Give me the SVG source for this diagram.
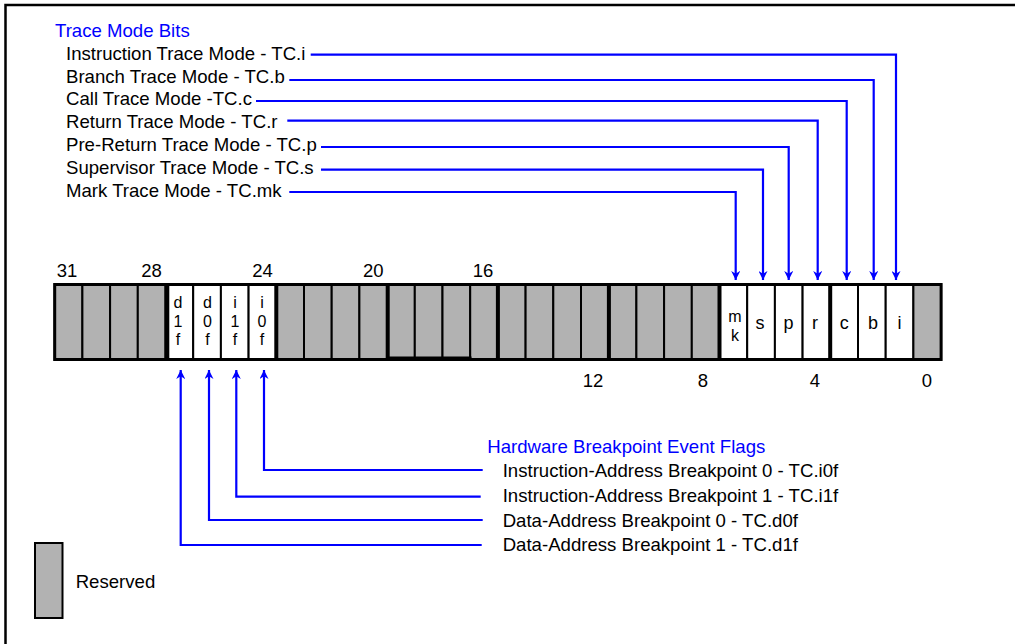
<svg xmlns="http://www.w3.org/2000/svg" width="1015" height="644" viewBox="0 0 1015 644">
<style>
  text { font-family: "Liberation Sans", Arial, sans-serif; font-size: 18.6px; fill: #000; }
  .blue { fill: #0000ff; }
  .num { text-anchor: middle; font-size: 18.5px; }
  .bit { text-anchor: middle; font-size: 18px; }
  .stk { text-anchor: middle; font-size: 16px; }
  .res { fill: #b2b2b2; stroke: #000; stroke-width: 2; }
  .fld { fill: #fff; stroke: #000; stroke-width: 2; }
  .thick { stroke: #000; stroke-width: 4; fill: none; }
  .conn { fill: none; stroke: #0000ff; stroke-width: 2.2; }
</style>
<defs>
  <marker id="arr" viewBox="0 0 10 10" refX="10" refY="5" markerWidth="11" markerHeight="9" markerUnits="userSpaceOnUse" orient="auto">
    <path d="M0,0 L10,5 L0,10 L3,5 z" fill="#0000ff"/>
  </marker>
</defs>
<rect width="1015" height="644" fill="#fff"/>
<path d="M5.5,644 V5 H1015" fill="none" stroke="#000" stroke-width="2.5"/>

<g id="title-trace">
  <text class="blue" x="55" y="37">Trace Mode Bits</text>
</g>
<g id="trace-labels">
  <text x="66" y="60">Instruction Trace Mode - TC.i</text>
  <text x="66" y="83">Branch Trace Mode - TC.b</text>
  <text x="66" y="105">Call Trace Mode -TC.c</text>
  <text x="66" y="128">Return Trace Mode - TC.r</text>
  <text x="66" y="151">Pre-Return Trace Mode - TC.p</text>
  <text x="66" y="174">Supervisor Trace Mode - TC.s</text>
  <text x="66" y="197">Mark Trace Mode - TC.mk</text>
</g>

<g id="bit-numbers">
  <text class="num" x="67" y="277">31</text>
  <text class="num" x="151.5" y="277">28</text>
  <text class="num" x="262.5" y="277">24</text>
  <text class="num" x="373.3" y="277">20</text>
  <text class="num" x="483" y="277">16</text>
  <text class="num" x="593" y="387">12</text>
  <text class="num" x="703" y="387">8</text>
  <text class="num" x="815" y="387">4</text>
  <text class="num" x="927" y="387">0</text>
</g>

<g id="register">
  <rect class="res" x="54.7" y="284.5" width="27.7" height="75"/>
  <rect class="res" x="82.4" y="284.5" width="27.7" height="75"/>
  <rect class="res" x="110.1" y="284.5" width="27.7" height="75"/>
  <rect class="res" x="137.8" y="284.5" width="27.7" height="75"/>
  <rect class="fld" x="165.5" y="284.5" width="27.7" height="75"/>
  <rect class="fld" x="193.2" y="284.5" width="27.7" height="75"/>
  <rect class="fld" x="220.9" y="284.5" width="27.7" height="75"/>
  <rect class="fld" x="248.6" y="284.5" width="27.7" height="75"/>
  <rect class="res" x="276.3" y="284.5" width="27.7" height="75"/>
  <rect class="res" x="304" y="284.5" width="27.7" height="75"/>
  <rect class="res" x="331.7" y="284.5" width="27.7" height="75"/>
  <rect class="res" x="359.4" y="284.5" width="27.7" height="75"/>
  <rect class="res" x="387.1" y="284.5" width="27.7" height="75"/>
  <rect class="res" x="414.8" y="284.5" width="27.7" height="75"/>
  <rect class="res" x="442.5" y="284.5" width="27.7" height="75"/>
  <rect class="res" x="470.2" y="284.5" width="27.7" height="75"/>
  <rect class="res" x="497.9" y="284.5" width="27.7" height="75"/>
  <rect class="res" x="525.6" y="284.5" width="27.7" height="75"/>
  <rect class="res" x="553.3" y="284.5" width="27.7" height="75"/>
  <rect class="res" x="581" y="284.5" width="27.7" height="75"/>
  <rect class="res" x="608.7" y="284.5" width="27.7" height="75"/>
  <rect class="res" x="636.4" y="284.5" width="27.7" height="75"/>
  <rect class="res" x="664.1" y="284.5" width="27.7" height="75"/>
  <rect class="res" x="691.8" y="284.5" width="27.7" height="75"/>
  <rect class="fld" x="719.5" y="284.5" width="27.7" height="75"/>
  <rect class="fld" x="747.2" y="284.5" width="27.7" height="75"/>
  <rect class="fld" x="774.9" y="284.5" width="27.7" height="75"/>
  <rect class="fld" x="802.6" y="284.5" width="27.7" height="75"/>
  <rect class="fld" x="830.3" y="284.5" width="27.7" height="75"/>
  <rect class="fld" x="858" y="284.5" width="27.7" height="75"/>
  <rect class="fld" x="885.7" y="284.5" width="27.7" height="75"/>
  <rect class="res" x="913.4" y="284.5" width="27.7" height="75"/>
  <path class="thick" d="M167.3,284.5 V359.5 M276.3,284.5 V359.5 M387.7,284.5 V361 M497.9,284.5 V359.5 M608.9,284.5 V359.5 M719.5,284.5 V359.5 M830.2,284.5 V359.5"/>
  <path d="M387.7,357.8 H471.5" stroke="#000" stroke-width="2.5" fill="none"/>
  <rect x="54.7" y="284.5" width="886.4" height="75" fill="none" stroke="#000" stroke-width="3"/>
</g>

<g id="bit-labels">
  <text class="stk" x="178" y="308">d</text><text class="stk" x="178" y="326.5">1</text><text class="stk" x="178" y="345">f</text>
  <text class="stk" x="207.5" y="308">d</text><text class="stk" x="207.5" y="326.5">0</text><text class="stk" x="207.5" y="345">f</text>
  <text class="stk" x="235" y="308">i</text><text class="stk" x="235" y="326.5">1</text><text class="stk" x="235" y="345">f</text>
  <text class="stk" x="262" y="308">i</text><text class="stk" x="262" y="326.5">0</text><text class="stk" x="262" y="345">f</text>
  <text class="stk" x="735" y="322">m</text><text class="stk" x="735" y="341">k</text>
  <text class="bit" x="760" y="328.5">s</text>
  <text class="bit" x="788.5" y="328.5">p</text>
  <text class="bit" x="815" y="328.5">r</text>
  <text class="bit" x="844.2" y="328.5">c</text>
  <text class="bit" x="873" y="328.5">b</text>
  <text class="bit" x="899.5" y="328.5">i</text>
</g>

<g id="title-hw">
  <text class="blue" x="487.3" y="453">Hardware Breakpoint Event Flags</text>
</g>
<g id="hw-labels">
  <text x="502.7" y="477">Instruction-Address Breakpoint 0 - TC.i0f</text>
  <text x="502.7" y="502">Instruction-Address Breakpoint 1 - TC.i1f</text>
  <text x="502.7" y="527">Data-Address Breakpoint 0 - TC.d0f</text>
  <text x="502.7" y="551">Data-Address Breakpoint 1 - TC.d1f</text>
</g>

<g id="legend">
  <rect class="res" x="35" y="543" width="27.5" height="75" stroke-width="2.2"/>
  <text x="75.7" y="588">Reserved</text>
</g>

<g id="connectors">
  <polyline class="conn" points="310.7,54.7 896,54.7 896,280" marker-end="url(#arr)"/>
  <polyline class="conn" points="289.3,80 873.7,80 873.7,280" marker-end="url(#arr)"/>
  <polyline class="conn" points="256,101 846.7,101 846.7,280" marker-end="url(#arr)"/>
  <polyline class="conn" points="287.3,120.7 817.7,120.7 817.7,280" marker-end="url(#arr)"/>
  <polyline class="conn" points="321,147 788.7,147 788.7,280" marker-end="url(#arr)"/>
  <polyline class="conn" points="321,169.7 763,169.7 763,280" marker-end="url(#arr)"/>
  <polyline class="conn" points="289.3,192 735.7,192 735.7,280" marker-end="url(#arr)"/>
  <polyline class="conn" points="482.7,470 264,470 264,370" marker-end="url(#arr)"/>
  <polyline class="conn" points="480.7,496.7 236.3,496.7 236.3,370" marker-end="url(#arr)"/>
  <polyline class="conn" points="482.7,520 209,520 209,370" marker-end="url(#arr)"/>
  <polyline class="conn" points="481.7,545 180.7,545 180.7,370" marker-end="url(#arr)"/>
</g>
</svg>
